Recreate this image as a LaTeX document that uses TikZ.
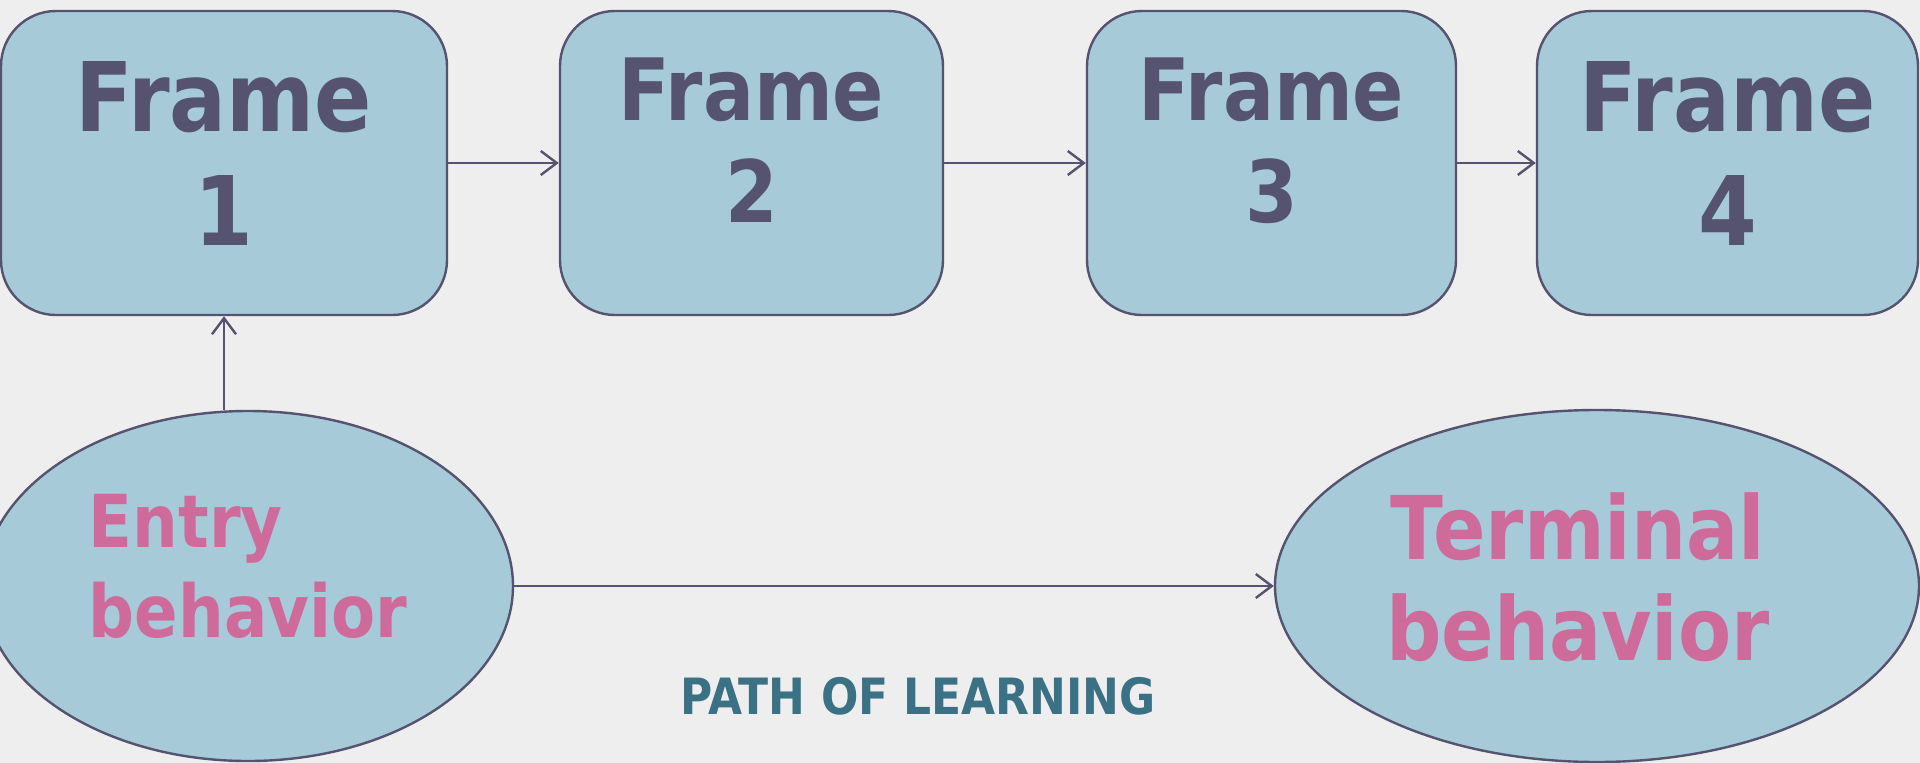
\documentclass[tikz,border=0pt]{standalone}
\usepackage{fontspec}
\usetikzlibrary{shapes.geometric,arrows.meta}
\newfontfamily\tf[FakeStretch=0.88]{DejaVu Sans}
\definecolor{bgc}{HTML}{EEEEEE}
\definecolor{boxfill}{HTML}{A6CAD8}
\definecolor{edge}{HTML}{55536F}
\definecolor{pinkc}{HTML}{CF6B9B}
\definecolor{tealc}{HTML}{3B7184}
\tikzset{
  framebox/.style={draw=edge, fill=boxfill, line width=2.4pt, rounded corners=55pt,
    inner sep=0pt, minimum height=304pt, align=center, text=edge},
  bigframe/.style={font=\tf\bfseries\fontsize{96}{114}\selectfont, text depth=18pt},
  smallframe/.style={font=\tf\bfseries\fontsize{86}{102}\selectfont, text depth=45pt},
  behav/.style={draw=edge, fill=boxfill, line width=2.4pt, ellipse, inner sep=0pt},
  arr/.style={draw=edge, line width=2.4pt, -{Straight Barb[length=16pt,width=24pt,line width=2.4pt]}},
}
\begin{document}
\begin{tikzpicture}[x=1pt,y=-1pt]
\useasboundingbox (0,0) rectangle (1920,763);
\fill[bgc] (0,0) rectangle (1920,763);
\node[framebox, bigframe, minimum width=446pt] (f1) at (224,163) {Frame\\1};
\node[framebox, smallframe, minimum width=383pt] (f2) at (751.5,163) {Frame\\2};
\node[framebox, smallframe, minimum width=369pt] (f3) at (1271.5,163) {Frame\\3};
\node[framebox, bigframe, minimum width=381pt] (f4) at (1727.5,163) {Frame\\4};
\node[behav, minimum width=530pt, minimum height=350pt, align=left, text=pinkc,
  font=\tf\bfseries\fontsize{73}{90}\selectfont, text depth=41pt] (entry) at (248,586) {Entry\\behavior};
\node[behav, minimum width=644pt, minimum height=352pt] (term) at (1597,586) {};
\node[align=center, text=pinkc, inner sep=0pt, font=\tf\bfseries\fontsize{88}{101}\selectfont,
  text depth=19pt] (termtext) at (1578,586) {Terminal\\behavior};
\node[anchor=base, inner sep=0pt, text=tealc, font=\tf\bfseries\fontsize{50}{58}\selectfont] (path) at (918,714) {PATH OF LEARNING};
\draw[arr] (f1) -- (f2);
\draw[arr] (f2) -- (f3);
\draw[arr] (f3) -- (f4);
\draw[arr] (entry) -- (term);
\draw[arr] (f1.south |- entry.north) -- (f1.south);
\end{tikzpicture}
\end{document}
